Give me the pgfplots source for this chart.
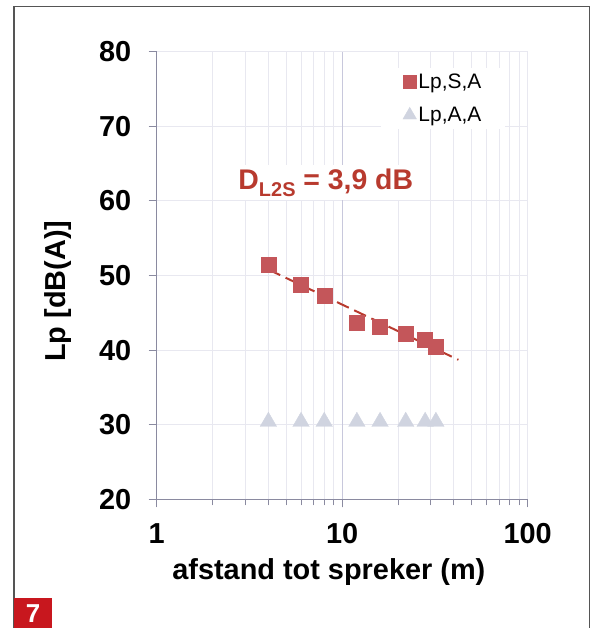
\documentclass[border=0pt]{standalone}
\usepackage{pgfplots}
\pgfplotsset{compat=1.18}
\usepackage{fontspec}
\setmainfont{Liberation Sans}
\definecolor{sq}{HTML}{C4565A}
\definecolor{tri}{HTML}{D0D4E0}
\definecolor{trend}{HTML}{B83A2E}
\definecolor{annot}{HTML}{B83A2E}
\definecolor{redbox}{HTML}{C8171E}
\definecolor{framec}{HTML}{555555}
\definecolor{gridc}{HTML}{E8E8F0}
\definecolor{grid10}{HTML}{C8C8DC}
\definecolor{axisc}{HTML}{8A8AA0}
\begin{document}
\begin{tikzpicture}
\useasboundingbox (0,0) rectangle (596bp,628bp);
\draw[color=framec, line width=1.2bp] (14bp,0) -- (14bp,621.7bp) -- (589.3bp,621.7bp) -- (589.3bp,0);
\fill[redbox] (14bp,0) rectangle (52bp,30.3bp);
\node[text=white, font=\bfseries\fontsize{26}{30}\selectfont] at (33bp,14bp) {7};
\begin{axis}[
  at={(156.7bp,128.7bp)}, anchor=south west,
  scale only axis, width=371bp, height=447.6bp,
  xmode=log, xmin=1, xmax=100, ymin=20, ymax=80,
  xtick={1,10,100}, xticklabels={1,10,100},
  minor xtick={2,3,4,5,6,7,8,9,20,30,40,50,60,70,80,90},
  ytick={20,30,40,50,60,70,80},
  axis lines=left,
  axis line style={-, color=axisc, line width=1bp},
  tick align=outside,
  major tick length=8bp, minor tick length=6bp,
  tick style={color=axisc, line width=0.8bp},
  xmajorgrids, xminorgrids, ymajorgrids,
  major grid style={color=gridc, line width=0.9bp},
  minor grid style={color=gridc, line width=0.9bp},
  extra x ticks={10}, extra x tick labels={},
  extra x tick style={major grid style={color=grid10, line width=0.9bp}},
  /pgf/number format/assume math mode=true,
  ticklabel style={font=\bfseries\fontsize{29}{32}\selectfont},
  yticklabel style={xshift=-14bp},
  xticklabel style={yshift=-13bp},
  xlabel={afstand tot spreker (m)},
  ylabel={Lp [dB(A)]},
  label style={font=\bfseries\fontsize{29}{32}\selectfont},
  xlabel style={at={(axis description cs:0.464,-0.162)}, anchor=center},
  ylabel style={at={(axis description cs:-0.267,0.465)}, anchor=center, rotate=0},
  legend image code/.code={\draw[#1] plot coordinates {(6.2bp,0bp)};},
  legend style={at={(axis description cs:0.604,0.965)}, anchor=north west,
    draw=none, fill=white, font=\fontsize{21}{24}\selectfont,
    row sep=13.5bp, inner xsep=22bp, inner ysep=4bp,
    nodes={inner xsep=2bp, inner ysep=2bp}},
  legend cell align=left,
  clip=false,
]
\addplot[only marks, mark=square*, mark size=7.5bp, color=sq, fill=sq,
  legend image post style={mark size=6.2bp}]
  coordinates {(4,51.4) (6,48.7) (8,47.3) (12,43.7) (16,43.1) (22,42.2) (28,41.35) (32,40.4)};
\addlegendentry{Lp,S,A}
\addplot[only marks, mark=triangle*, mark size=9.5bp, color=tri, fill=tri,
  legend image post style={mark size=7.8bp}]
  coordinates {(4,30.4) (6,30.4) (8,30.4) (12,30.4) (16,30.4) (22,30.4) (28,30.4) (32,30.4)};
\addlegendentry{Lp,A,A}
\addplot[forget plot, color=trend, line width=2bp, dash pattern=on 13bp off 6bp]
  coordinates {(4,50.8) (42.3,38.7)};
\node[fill=white, anchor=base west, inner sep=4bp, text=annot,
  font=\bfseries\fontsize{28.5}{32}\selectfont] at (axis cs:2.62,61.5)
  {D{\fontsize{20}{24}\selectfont\raisebox{-6.5bp}{L2S}} = 3,9 dB};
\end{axis}
\end{tikzpicture}
\end{document}
